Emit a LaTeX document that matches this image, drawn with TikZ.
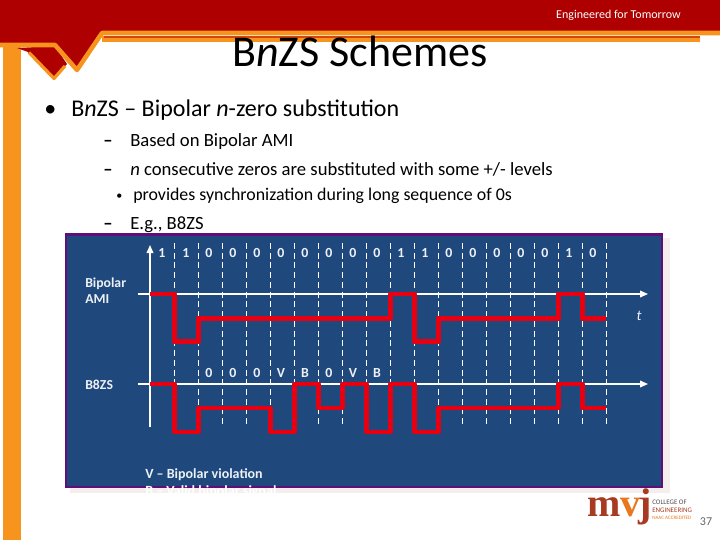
\documentclass[tikz,border=0pt]{standalone}
\usepackage{fontspec}
\setmainfont{Carlito}
\newfontfamily\logofont{Liberation Serif}
\usetikzlibrary{arrows.meta}
\definecolor{hdred}{HTML}{AE0000}
\definecolor{hdor}{HTML}{F7941D}
\definecolor{hdline}{HTML}{D4450F}
\definecolor{panelblue}{HTML}{1F497D}
\definecolor{pborder}{HTML}{5E0F78}
\definecolor{panelshadow}{HTML}{F4EFEC}
\definecolor{sigred}{HTML}{E60012}
\definecolor{logored}{HTML}{A83A22}
\definecolor{logoor}{HTML}{E8781E}
\tikzset{
  x=0.75pt,y=-0.75pt,
  txt/.style={anchor=base west,inner sep=0,text=black},
  lvl1/.style={txt,font=\fontsize{18}{20}\selectfont},
  lvl2/.style={txt,font=\fontsize{14}{16}\selectfont},
  lvl3/.style={txt,font=\fontsize{13.4}{15}\selectfont},
  dashmark/.style={txt,font=\fontsize{14}{16}\selectfont\bfseries},
  bitlab/.style={anchor=center,inner sep=0,text=white!92!panelblue,font=\fontsize{10.4}{11}\selectfont\bfseries},
  sidelab/.style={anchor=base west,inner sep=0,text=white!92!panelblue,font=\fontsize{10.3}{11}\selectfont\bfseries},
  gridline/.style={white,dashed,dash pattern=on 4.5pt off 2.8pt,line width=0.7pt},
  axisline/.style={white,line width=1.1pt},
  axisarrow/.style={axisline,-{Triangle[length=6pt,width=5pt]}},
  signal/.style={sigred,line width=3.4pt,line join=round},
}
\begin{document}
\begin{tikzpicture}
\useasboundingbox (0,0) rectangle (720,540);
\fill[white] (0,0) rectangle (720,540);
% left bar
\fill[hdor] (3,46) rectangle (21,540);
% lower chevron
\fill[hdred] (17,48) -- (28,52) -- (54,78) -- (67,64) -- (55,46) -- cycle;
\draw[hdor,line width=2.4pt,line join=round] (29,52.5) -- (54,78.5) -- (65,66);
% header
\fill[hdor] (102,36) rectangle (700,42);
\fill[hdline] (104,36) rectangle (700,38);
\fill[hdred] (0,0) -- (720,0) -- (720,32) -- (102,32) -- (77,70) -- (55,45) -- (0,45) -- cycle;
\draw[hdor,line width=3.4pt,line join=round] (0,45) -- (55,45) -- (77,70) -- (102,33) -- (720,33);
\node[anchor=base east,inner sep=0,text=white,font=\fontsize{9}{10}\selectfont] (tag) at (681,18) {Engineered for Tomorrow};
% title
\node[anchor=base,inner sep=0,font=\fontsize{33}{36}\selectfont] (title) at (360,66) {B\textit{n}ZS Schemes};
% body
\node[txt,font=\fontsize{18}{20}\selectfont] (b1) at (44,116) {•};
\node[lvl1] (l1) at (71,116) {B\textit{n}ZS – Bipolar \textit{n}-zero substitution};
\node[dashmark] (d2) at (103,146) {–};
\node[lvl2] (l2) at (130,146) {Based on Bipolar AMI};
\node[dashmark] (d3) at (103,175) {–};
\node[lvl2] (l3) at (130,175) {\textit{n} consecutive zeros are substituted with some +/- levels};
\node[txt,font=\fontsize{9}{10}\selectfont] (b4) at (116,199) {•};
\node[lvl3] (l4) at (133,200) {provides synchronization during long sequence of 0s};
\node[dashmark] (d5) at (103,229) {–};
\node[lvl2] (l5) at (130,229) {E.g., B8ZS};
% panel
\fill[panelshadow] (70,238) rectangle (670,493);
\fill[panelblue,draw=pborder,line width=2.2pt] (66,234.5) rectangle (662,487);
% grid
\foreach \i in {0,...,18}{
  \pgfmathsetmacro{\xx}{174.3+24*\i}
  \draw[gridline] (\xx,243) -- (\xx,425);
}
% axes
\coordinate (yb) at (150,427);
\coordinate (yt) at (150,245);
\coordinate (a1l) at (138,294);
\coordinate (a1r) at (648,294);
\coordinate (a2l) at (138,384);
\coordinate (a2r) at (648,384);
\draw[axisarrow] (yb) -- (yt);
\draw[axisarrow] (a1l) -- (a1r);
\draw[axisarrow] (a2l) -- (a2r);
% bits
\foreach \t/\x in {1/162,1/186,0/209,0/233,0/257,0/281,0/305,0/329,0/353,0/377,1/401,1/425,0/449,0/473,0/497,0/521,0/545,1/569,0/593}{
  \node[bitlab] at (\x,252.5) {\t};
}
\foreach \t/\x in {0/209,0/233,0/257,V/281,B/305,0/329,V/353,B/377}{
  \node[bitlab] at (\x,372.5) {\t};
}
% signals
\draw[signal] (150,294) -| (174.3,341.7) -| (198.3,318.3) -| (390.3,294) -| (414.3,341.7) -| (438.3,318.3) -| (558.3,294) -| (582.3,318.3) -- (606.3,318.3);
\draw[signal] (150,384) -| (174.3,432) -| (198.3,408) -| (270.3,432) -| (294.3,384) -| (318.3,408) -| (342.3,384) -| (366.3,432) -| (390.3,384) -| (414.3,432) -| (438.3,408) -| (558.3,384) -| (582.3,408) -- (606.3,408);
% labels
\node[sidelab] (ami1) at (85,287) {Bipolar};
\node[sidelab] (ami2) at (85,303) {AMI};
\node[sidelab] (b8) at (85,389) {B8ZS};
\node[anchor=center,inner sep=0,text=white!92!panelblue,font=\fontsize{11}{12}\selectfont\itshape] (t) at (639,315.5) {t};
\node[anchor=base west,inner sep=0,text=white!92!panelblue,font=\fontsize{10.5}{12}\selectfont\bfseries] (vnote) at (145,478) {V – Bipolar violation};
\node[anchor=base west,inner sep=0,text=white,font=\fontsize{10.5}{12}\selectfont\bfseries] (bnote) at (145,495) {B – Valid bipolar signal};
% logo
\node[anchor=base west,inner sep=0,text=logored,font=\fontsize{30}{30}\logofont\bfseries] (logom) at (587,516) {m};
\node[anchor=base west,inner sep=0,text=logoor,font=\fontsize{30}{30}\logofont\bfseries] (logov) at (620,516) {v};
\node[anchor=base west,inner sep=0,text=logored,font=\fontsize{30}{30}\logofont\bfseries] (logoj) at (638,516) {j};
\node[anchor=base west,inner sep=0,text=black!70,font=\fontsize{5.2}{6}\selectfont] (lg1) at (652,504) {COLLEGE OF};
\node[anchor=base west,inner sep=0,text=logored,font=\fontsize{5.2}{6}\selectfont] (lg2) at (652,512) {ENGINEERING};
\node[anchor=base west,inner sep=0,text=logoor,font=\fontsize{3.8}{4}\selectfont] (lg3) at (652,519) {NAAC ACCREDITED};
\node[anchor=base,inner sep=0,text=black!60,font=\fontsize{9}{10}\selectfont] (pg) at (706,525) {37};
\end{tikzpicture}
\end{document}
